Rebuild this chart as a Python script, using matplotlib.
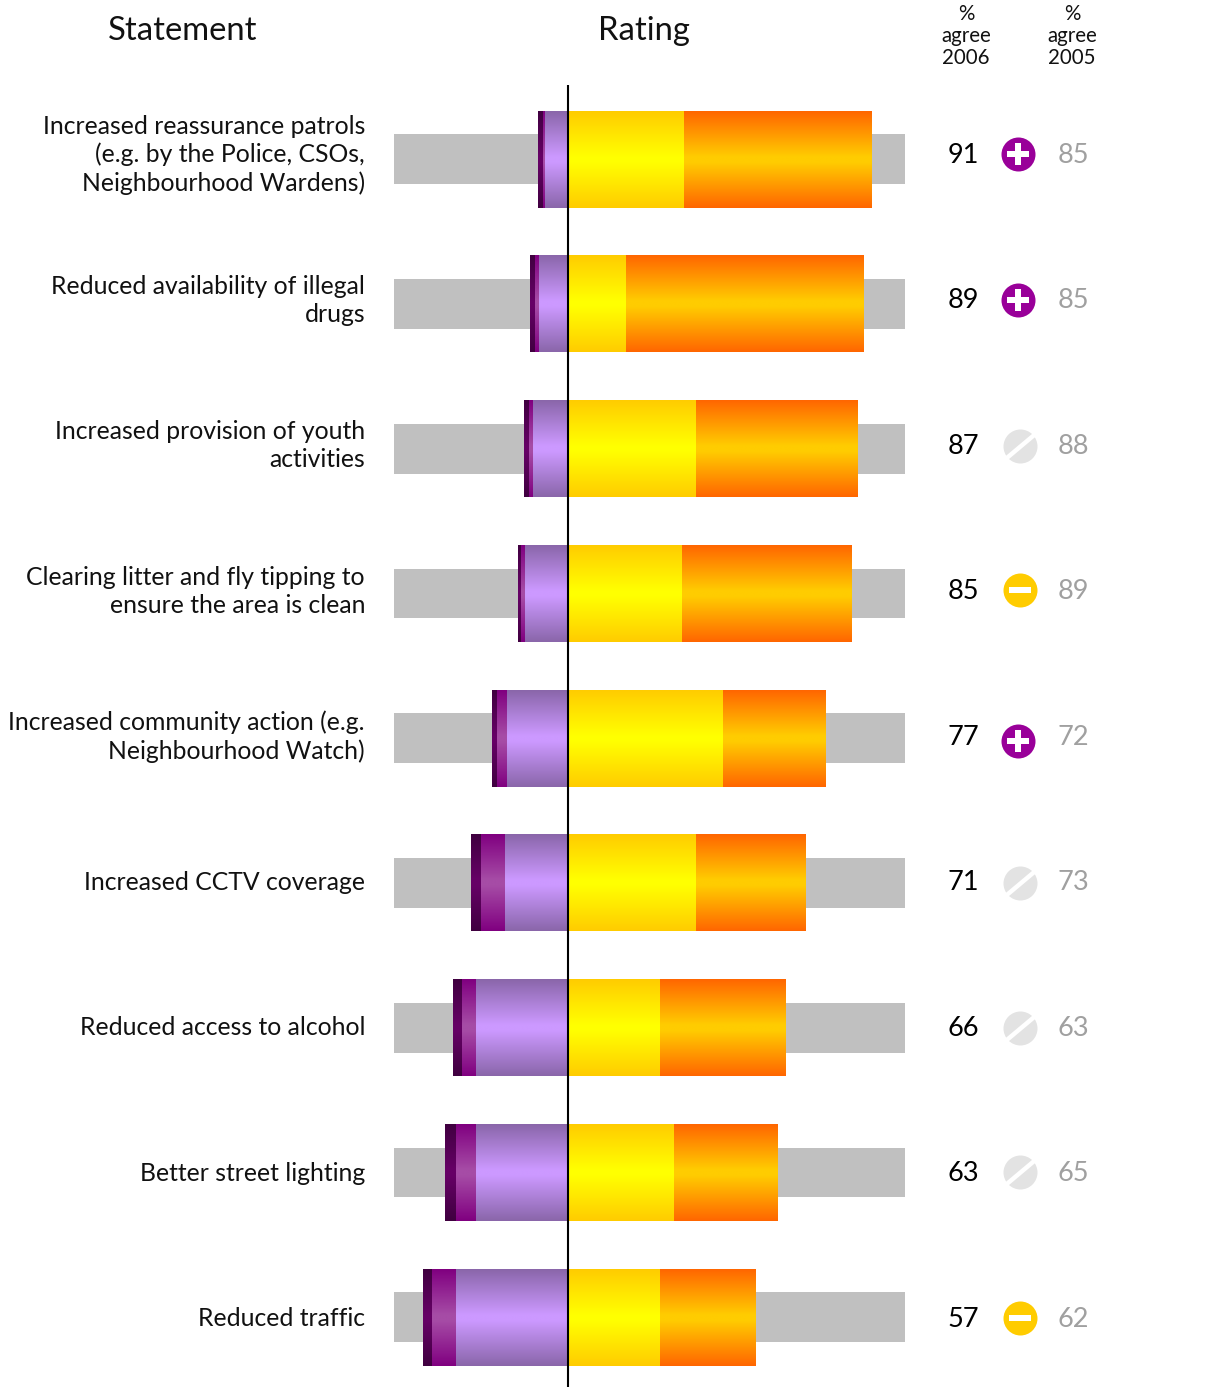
import numpy as np
import matplotlib.pyplot as plt
from matplotlib.colors import LinearSegmentedColormap
from matplotlib.path import Path

plt.rcParams['font.family'] = ['Lato', 'DejaVu Sans']

statements = [
    "Increased reassurance patrols\n(e.g. by the Police, CSOs,\nNeighbourhood Wardens)",
    "Reduced availability of illegal\ndrugs",
    "Increased provision of youth\nactivities",
    "Clearing litter and fly tipping to\nensure the area is clean",
    "Increased community action (e.g.\nNeighbourhood Watch)",
    "Increased CCTV coverage",
    "Reduced access to alcohol",
    "Better street lighting",
    "Reduced traffic",
]
# shares, % of respondents
tend_agree = [34.7, 17.3, 38.3, 34.1, 46.4, 38.3, 27.5, 31.7, 27.5]
strong_agree = [56.4, 71.4, 48.6, 51.0, 30.9, 33.0, 37.8, 31.2, 28.8]
tend_disagree = [7.1, 8.9, 10.7, 13.1, 18.5, 19.1, 27.8, 27.8, 33.8]
strong_disagree = [0.6, 1.2, 1.2, 1.2, 3.0, 7.2, 4.2, 6.0, 7.2]
dont_know = [1.5, 1.5, 1.5, 0.9, 1.5, 3.0, 2.7, 3.3, 2.7]
agree_2006 = [91, 89, 87, 85, 77, 71, 66, 63, 57]
agree_2005 = [85, 85, 88, 89, 72, 73, 63, 65, 62]
change = ['up', 'up', 'same', 'down', 'up', 'same', 'same', 'same', 'down']

W, H = 1232, 1387
ZERO = 568.5
PX = 3.33
# icons are not quite evenly spaced in the original
icon_nudge = [0, 1, 2, 0, 5.5, 2, 2, 0, 1]


def xpos(p):
    return (p - ZERO) / PX


def ypos(p):
    return (p - 159.25) / 144.75


fig = plt.figure(figsize=(W / 100, H / 100), dpi=100)
ax = fig.add_axes([0, 0, 1, 1])
ax.set_xlim(xpos(0), xpos(W))
ax.set_ylim(ypos(H), ypos(0))
ax.axis('off')


def grad_bar(x0, x1, y, edge, mid):
    cmap = LinearSegmentedColormap.from_list('g', [(0, edge), (0.47, mid), (0.53, mid), (1, edge)])
    g = np.linspace(0, 1, 200).reshape(-1, 1)
    h = 0.335
    ax.imshow(g, cmap=cmap, extent=(x0, x1, y + h, y - h), aspect='auto',
              interpolation='bilinear', zorder=2)


for i in range(len(statements)):
    ax.barh(i, xpos(905) - xpos(394), left=xpos(394), height=0.343, color='#c0c0c0', zorder=1)

    # right side
    grad_bar(0, tend_agree[i], i, '#ffcc00', '#ffff00')
    grad_bar(tend_agree[i], tend_agree[i] + strong_agree[i], i, '#ff6600', '#ffcc00')

    # left side
    a = tend_disagree[i]
    b = a + strong_disagree[i]
    c = b + dont_know[i]
    grad_bar(-a, 0, i, '#8a66aa', '#cc99ff')
    grad_bar(-b, -a, i, '#800080', '#a64ca6')
    grad_bar(-c, -b, i, '#400040', '#660066')

    ax.text(xpos(365), ypos(155 + 145.45 * i), statements[i], ha='right', va='center',
            fontsize=17.85, color='#111111', linespacing=1.27, zorder=5)
    ax.text(xpos(963.5), ypos(155.5 + 145.45 * i), str(agree_2006[i]), ha='center', va='center',
            fontsize=19.5, color='black')
    ax.text(xpos(1073.5), ypos(155.5 + 145.45 * i), str(agree_2005[i]), ha='center', va='center',
            fontsize=19.5, color='#a0a0a0')

ax.set_xlim(xpos(0), xpos(W))
ax.set_ylim(ypos(H), ypos(0))

# black centre line
ax.plot([xpos(568.3), xpos(568.3)], [ypos(85), ypos(H)], color='black', lw=1.5, zorder=4, solid_capstyle='butt')

# change icons
plus = Path([(-1, -.3), (-.3, -.3), (-.3, -1), (.3, -1), (.3, -.3), (1, -.3), (1, .3), (.3, .3),
             (.3, 1), (-.3, 1), (-.3, .3), (-1, .3), (-1, -.3)])
minus = Path([(-1, -.27), (1, -.27), (1, .27), (-1, .27), (-1, -.27)])
ang = np.radians(40)
d = np.array([np.cos(ang), np.sin(ang)])
n = np.array([-d[1], d[0]]) * 0.1
slash = Path([-d - n, d - n, d + n, -d + n, -d - n])
for i, ch in enumerate(change):
    y = ypos(153.5 + 145.45 * i + icon_nudge[i])
    if ch == 'up':
        x, col, mark, s = xpos(1017.8), '#990099', plus, (23 * .72) ** 2
    elif ch == 'down':
        x, col, mark, s = xpos(1019.5), '#ffcc00', minus, (22 * .72) ** 2
    else:
        x, col, mark, s = xpos(1020.3), '#e3e3e3', slash, (37 * .72) ** 2
    ax.scatter([x], [y], s=(34 * .72) ** 2, c=col, marker='o', linewidths=0, zorder=3)
    ax.scatter([x], [y], s=s, c='white', marker=mark, linewidths=0, zorder=4)

# headers
ax.text(xpos(183), ypos(31), "Statement", ha='center', va='center', fontsize=23.6, color='#111111')
ax.text(xpos(644), ypos(31), "Rating", ha='center', va='center', fontsize=23.6, color='#111111')
ax.text(xpos(966), ypos(36), "%\nagree\n2006", ha='center', va='center', fontsize=14.8, color='#111111', linespacing=1.14)
ax.text(xpos(1072), ypos(36), "%\nagree\n2005", ha='center', va='center', fontsize=14.8, color='#111111', linespacing=1.14)

fig.savefig('out.png', dpi=100, facecolor='white')
